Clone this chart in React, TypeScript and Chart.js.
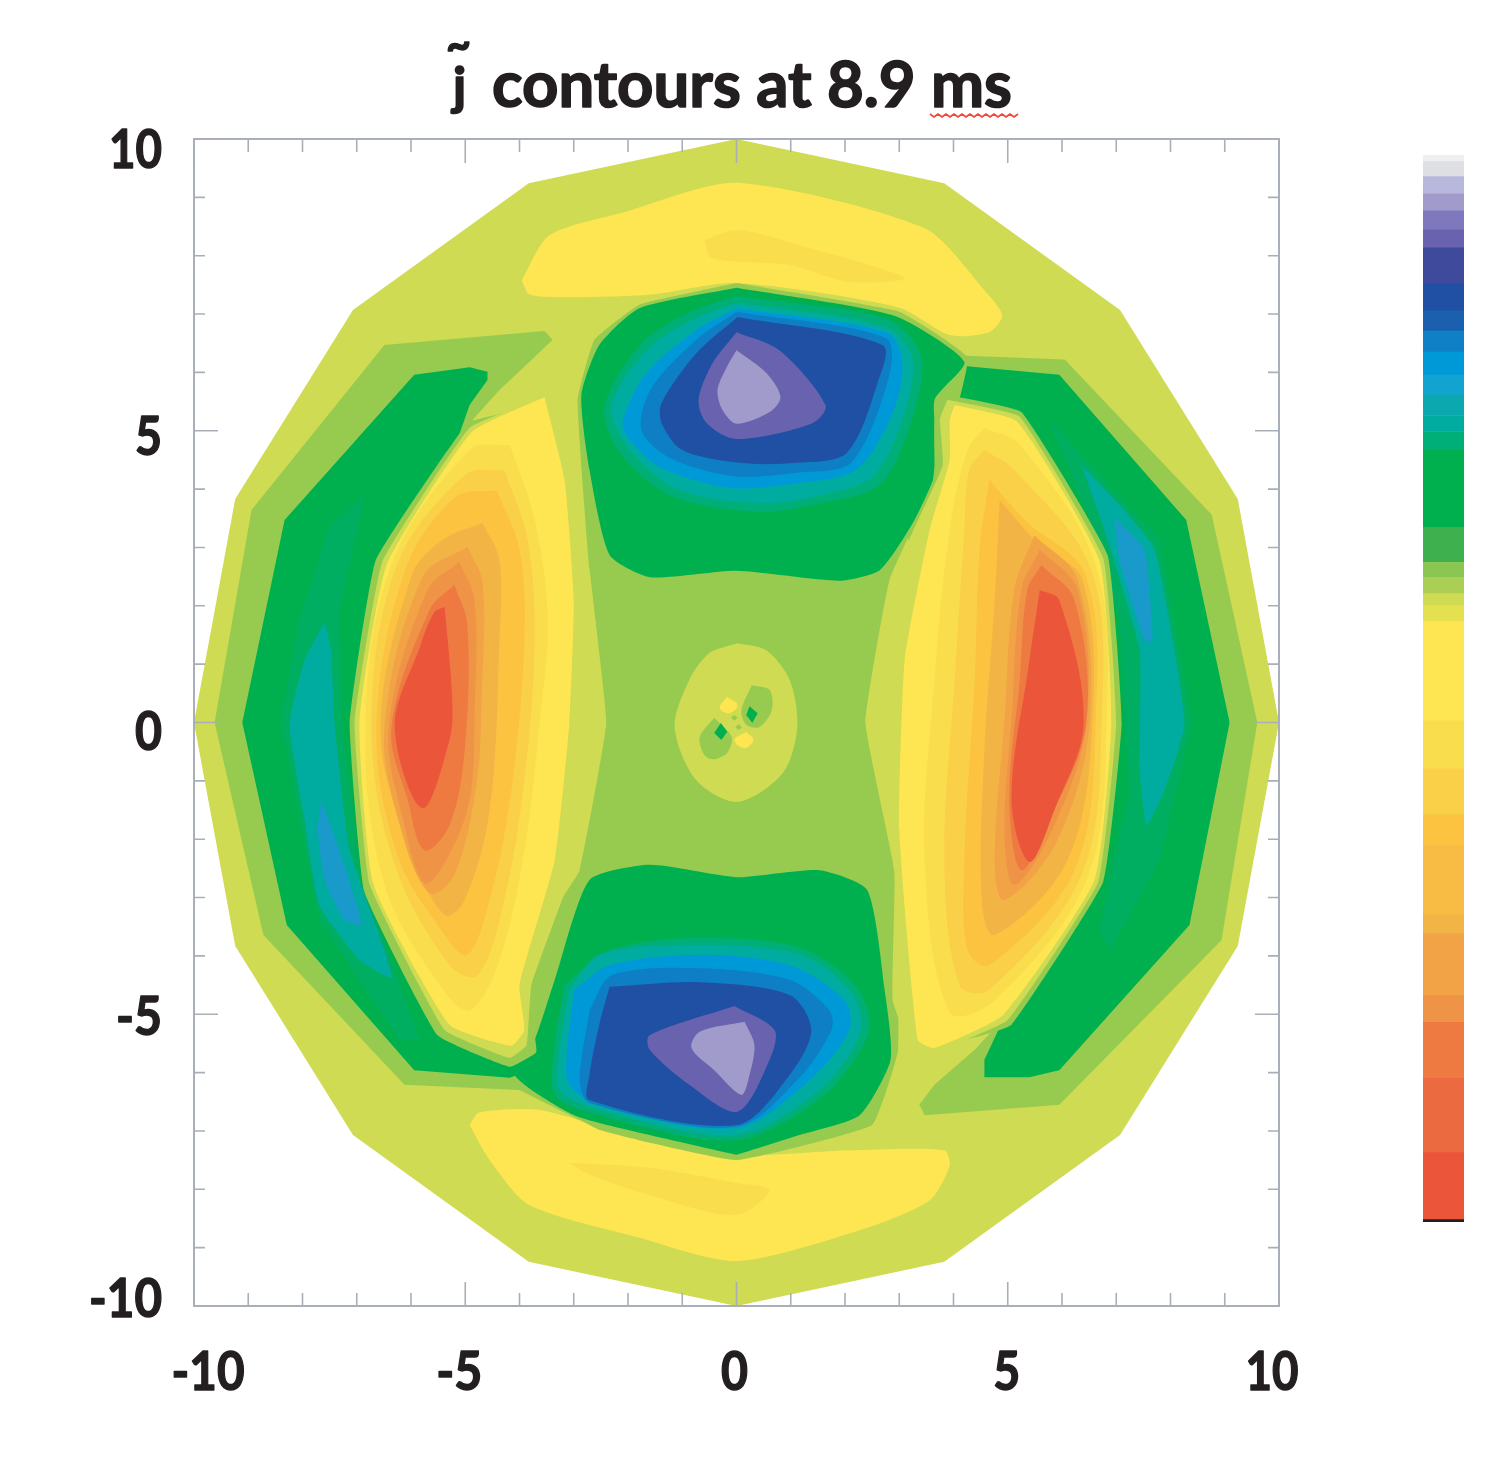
import React, { useEffect, useRef } from "react";
import { Chart, registerables } from "chart.js";

Chart.register(...registerables);

type Pt = [number, number];

const xTickValues = [-10, -5, 0, 5, 10];
const yTickValues = [-10, -5, 0, 5, 10];
const titleText = "contours at 8.9 ms";

const outerDisc: Pt[] = [[0,10],[3.83,9.24],[7.07,7.07],[9.24,3.83],[10,0],[9.24,-3.83],[7.07,-7.07],[3.83,-9.24],[0,-10],[-3.83,-9.24],[-7.07,-7.07],[-9.24,-3.83],[-10,0],[-9.24,3.83],[-7.07,7.07],[-3.83,9.24]];
const topBand: Pt[] = [[-3.96,7.58],[-3.45,8.35],[-2.06,8.75],[0,9.25],[3.47,8.47],[4.57,7.41],[4.9,6.98],[4.66,6.69],[3.93,6.64],[3,7.11],[0,7.53],[-1.6,7.33],[-3.26,7.29],[-3.82,7.34]];
const topBandCore: Pt[] = [[-0.59,8.27],[0,8.44],[1.16,8.18],[3.1,7.62],[2.08,7.55],[0.98,7.84],[-0.46,7.96]];
const bottomBand: Pt[] = [[-4.92,-6.9],[-4.74,-6.68],[-3.63,-6.64],[-1.97,-7.07],[0,-7.41],[2.08,-7.33],[3.83,-7.33],[3.93,-7.59],[3.56,-8.19],[2.27,-8.7],[0,-9.23],[-1.79,-8.83],[-3.82,-8.27],[-4.55,-7.5]];
const bottomBandCore: Pt[] = [[-3.08,-7.55],[-1.6,-7.63],[0,-7.89],[0.61,-8.01],[0,-8.44],[-1.6,-8.1],[-2.71,-7.75]];

const leftArcMid: Pt[] = [[-3.39,6.56],[-3.54,6.71],[-6.49,6.47],[-8.94,3.64],[-9.62,0],[-8.72,-3.64],[-6.12,-6.21],[-4,-6.3],[-2.53,-6.98],[-2.53,-4.76],[-5.29,-2.19],[-5.84,0],[-5.6,3.5],[-4.85,5.2],[-4.37,5.7],[-3.82,6.18]];
const rightArcMid: Pt[] = [[3.37,-6.55],[3.47,-6.73],[5.95,-6.55],[8.94,-3.73],[9.6,0],[8.76,3.56],[6.05,6.22],[3.9,6.3],[3,3.81],[3.93,0],[5.2,-4.8],[4.4,-5.6],[3.65,-6.21]];
const leftArcDeep: Pt[] = [[-4.59,6.01],[-4.92,6.09],[-5.94,5.96],[-8.33,3.47],[-9.11,0],[-8.29,-3.47],[-5.94,-5.96],[-4.18,-6.09],[-3.26,-5.78],[-5.29,-3.04],[-6.21,0],[-5.66,3.47],[-4.92,5.44],[-4.59,5.87]];
const rightArcDeep: Pt[] = [[4.57,-6.08],[5.4,-6.08],[5.95,-5.96],[8.35,-3.47],[9.09,0],[8.29,3.47],[5.95,5.96],[4.3,6.1],[3.6,6.2],[3.56,5.53],[4.85,0],[5.95,-3.04],[4.57,-5.78]];
const leftTint: Pt[] = [[-6.86,3.9],[-7.32,1.93],[-7.28,0],[-6.91,-2.7],[-5.84,-5.44],[-6.21,-5.44],[-7.69,-3.38],[-8.39,0],[-8.06,1.76],[-7.5,3.38]];
const leftTeal: Pt[] = [[-7.59,1.72],[-7.47,1.24],[-7.41,0],[-7.13,-2.19],[-6.49,-3.9],[-6.36,-4.38],[-6.95,-4.07],[-7.69,-3.13],[-7.96,-1.67],[-8.24,-0.04],[-7.96,1.07]];
const leftBlue: Pt[] = [[-7.65,-1.33],[-7.23,-2.44],[-6.91,-3.47],[-7.23,-3.38],[-7.59,-2.7],[-7.72,-1.84]];
const rightTint: Pt[] = [[5.77,5.18],[6.6,4.33],[7.8,3.13],[8.39,0],[7.8,-2.36],[6.88,-3.9],[6.69,-3.56],[7.24,-1.16],[7.06,1.76],[6.51,3.47]];
const rightTeal: Pt[] = [[6.36,4.41],[7.06,3.73],[7.71,2.96],[8.26,0],[7.89,-1.16],[7.56,-1.76],[7.43,-0.81],[7.43,1.24],[6.78,3.3]];
const rightBlue: Pt[] = [[6.97,3.5],[7.52,2.96],[7.67,1.41],[7.52,1.41],[7.06,2.78]];

const centerMid: Pt[] = [[0,7.53],[3,7.04],[4.26,6.25],[3.74,4.33],[2.82,2.44],[2.38,0],[2.91,-2.53],[2.98,-5.61],[2.5,-6.9],[0,-7.5],[-2.53,-6.98],[-3.82,-6.21],[-3.82,-4.76],[-3.6,-4],[-3.2,-3],[-2.89,-2.53],[-2.4,0],[-2.71,2.61],[-2.93,5.53],[-2.62,6.56],[-1.79,7.16]];

const topPit: Pt[] = [[0,7.45],[2.91,6.97],[4.2,6.18],[3.65,5.53],[3.71,4.41],[3.28,3.47],[2.64,2.61],[1.9,2.43],[0,2.6],[-1.6,2.49],[-2.34,2.87],[-2.71,4.33],[-2.86,5.61],[-2.53,6.47],[-1.79,7.1]];
const topTint: Pt[] = [[0,7.31],[2.82,6.9],[3.41,6.25],[3.23,5.18],[2.64,4.07],[1.4,3.73],[0.42,3.61],[-1.14,3.86],[-2.12,4.58],[-2.43,5.41],[-1.75,6.5],[-0.87,7.03]];
const topTeal: Pt[] = [[0,7.19],[2.76,6.78],[3.24,6.25],[3.1,5.3],[2.51,4.21],[1.4,3.86],[0.42,3.76],[-1.05,3.98],[-1.97,4.67],[-2.3,5.41],[-1.66,6.38],[-0.81,6.9]];
const topBlue: Pt[] = [[0,7.1],[2.78,6.68],[3.06,6.16],[2.88,5.3],[2.21,4.33],[1.11,4.1],[-0.13,4.02],[-1.42,4.38],[-2.01,4.89],[-2.1,5.18],[-1.66,5.99],[-0.74,6.73]];
const topMidBlue: Pt[] = [[0,7.04],[2.75,6.59],[2.82,5.96],[2.12,4.46],[1.11,4.28],[-0.04,4.22],[-1.2,4.52],[-1.75,5.01],[-1.57,5.73],[-0.74,6.56]];
const topDeep: Pt[] = [[0.02,6.95],[2.69,6.47],[2.6,5.82],[2.03,4.62],[1.11,4.45],[0.06,4.45],[-1,4.67],[-1.38,5.13],[-1.38,5.48],[-0.74,6.33]];
const topPurple: Pt[] = [[0,6.69],[0.79,6.38],[1.64,5.44],[1.4,5.13],[0,4.86],[-0.55,5.13],[-0.7,5.53],[-0.44,6.16]];
const topLight: Pt[] = [[0,6.38],[0.55,5.99],[0.81,5.58],[0.61,5.32],[0,5.12],[-0.26,5.36],[-0.35,5.7],[-0.18,6.09]];

const bottomPit: Pt[] = [[0,-7.41],[1.16,-7.07],[2.27,-6.73],[2.84,-5.78],[2.73,-4.58],[2.41,-2.87],[1.53,-2.53],[0,-2.65],[-1.6,-2.44],[-2.71,-2.7],[-3.35,-4.41],[-3.72,-5.44],[-4.09,-6.04],[-2.99,-6.73],[-1.6,-7.07]];
const bottomTint: Pt[] = [[-3.17,-4.5],[-2.34,-3.9],[-0.68,-3.69],[1.16,-3.86],[2.18,-4.5],[2.45,-5.27],[1.62,-6.38],[0,-7.16],[-2.53,-6.73],[-3.35,-6.38],[-3.35,-5.53]];
const bottomTeal: Pt[] = [[-3.08,-4.58],[-2.53,-3.98],[-0.68,-3.81],[1.16,-3.98],[2.08,-4.58],[2.3,-5.27],[1.53,-6.3],[0,-7.07],[-2.53,-6.64],[-3.26,-6.3],[-3.26,-5.61]];
const bottomBlue: Pt[] = [[-2.99,-4.58],[-2.34,-4.16],[-0.68,-3.98],[0.98,-4.16],[1.99,-4.76],[2.08,-5.27],[1.35,-6.13],[0,-6.95],[-2.53,-6.56],[-3.08,-6.21],[-3.13,-5.7]];
const bottomMidBlue: Pt[] = [[-2.71,-4.93],[-2.3,-4.33],[-0.68,-4.21],[0.98,-4.41],[1.71,-4.93],[1.75,-5.27],[1.16,-6.09],[0,-6.93],[-2.71,-6.52],[-2.89,-6.13]];
const bottomDeep: Pt[] = [[-2.34,-4.53],[-0.68,-4.45],[0.98,-4.67],[1.38,-5.27],[0.98,-6.04],[0,-6.9],[-2.71,-6.47],[-2.71,-6.04],[-2.53,-5.18]];
const bottomPurple: Pt[] = [[-0.04,-4.86],[0.7,-5.27],[0.61,-5.78],[0.02,-6.67],[-0.87,-6.21],[-1.6,-5.61],[-1.6,-5.36]];
const bottomLight: Pt[] = [[0.15,-5.13],[0.33,-5.53],[0.24,-6.04],[0.09,-6.38],[-0.41,-5.96],[-0.83,-5.58],[-0.68,-5.3]];

const hubOuter: Pt[] = [[0.02,1.36],[0.55,1.24],[0.98,0.73],[1.12,-0.08],[0.85,-0.87],[0.02,-1.36],[-0.74,-0.99],[-1.14,-0.08],[-0.87,0.73],[-0.5,1.19]];
const hubMidA: Pt[] = [[0.28,0.64],[0.61,0.56],[0.65,0.21],[0.42,-0.08],[0.18,-0.04],[0.09,0.21]];
const hubDeepA: Pt[] = [[0.24,0.28],[0.39,0.16],[0.29,-0.01],[0.18,0.13]];
const hubMidB: Pt[] = [[-0.41,0.08],[-0.09,-0.25],[-0.17,-0.52],[-0.41,-0.63],[-0.59,-0.56],[-0.68,-0.25]];
const hubDeepB: Pt[] = [[-0.29,-0.01],[-0.17,-0.16],[-0.28,-0.3],[-0.41,-0.18]];
const hubYellowA: Pt[] = [[-0.17,0.44],[0.02,0.3],[-0.13,0.16],[-0.31,0.25]];
const hubYellowB: Pt[] = [[0.18,-0.16],[0.31,-0.3],[0.15,-0.44],[-0.04,-0.3]];
const hubDotA: Pt[] = [[-0.04,0.13],[0.02,0.08],[-0.04,0.03],[-0.1,0.08]];
const hubDotB: Pt[] = [[0.04,-0.03],[0.1,-0.08],[0.04,-0.13],[-0.02,-0.08]];

const leftLobeRing: Pt[] = [[-4.3,5.3],[-4.96,5.13],[-6.65,2.78],[-7.13,0],[-6.86,-2.9],[-5.51,-5.36],[-4.18,-5.9],[-3.69,-5.65],[-3.75,-5.2],[-3.9,-4.5],[-3.26,-2.19],[-2.99,0.39],[-3.17,3.81]];
const leftLobeEdge: Pt[] = [[-3.48,5.61],[-4.92,5.05],[-6.53,2.75],[-7.04,0],[-6.76,-2.78],[-5.38,-5.27],[-4.18,-5.75],[-3.87,-5.53],[-3.78,-4.5],[-2.99,-2.44],[-2.43,0],[-2.71,2.61],[-3.17,4.67]];
const leftLobeY1: Pt[] = [[-3.54,5.58],[-4.88,4.98],[-6.45,2.7],[-6.95,0],[-6.69,-2.78],[-5.29,-5.18],[-4.15,-5.54],[-3.91,-5.27],[-4,-4.5],[-3.35,-2.36],[-3.08,0],[-3,2.1],[-3.17,4.16]];
const leftLobeY2: Pt[] = [[-4.18,4.76],[-3.72,3.47],[-3.48,1.76],[-3.63,0],[-3.91,-2.19],[-4.37,-4.07],[-4.92,-4.93],[-5.47,-4.5],[-6.49,-2.78],[-6.84,-0.08],[-6.36,2.7],[-4.92,4.67]];
const leftLobeY3: Pt[] = [[-4.28,4.33],[-3.85,3.13],[-3.72,1.41],[-3.91,-0.99],[-4.28,-3.04],[-4.77,-4.33],[-5.29,-4.16],[-6.3,-2.44],[-6.73,-0.08],[-6.27,2.67],[-5.01,4.24]];
const leftLobeO1: Pt[] = [[-4.42,3.98],[-4,2.96],[-3.91,1.41],[-4.15,-1.16],[-4.55,-3.04],[-4.96,-3.98],[-5.38,-3.64],[-6.25,-2.27],[-6.64,-0.08],[-6.12,2.58],[-5.2,3.85]];
const leftLobeO2: Pt[] = [[-4.68,3.42],[-4.37,2.78],[-4.37,1.41],[-4.55,-1.5],[-5.01,-3.04],[-5.38,-3.3],[-6.06,-2.1],[-6.56,-0.08],[-5.99,2.51],[-5.42,3.13]];
const leftLobeO3: Pt[] = [[-4.96,3.01],[-4.68,2.39],[-4.7,0.39],[-4.79,-1.04],[-5.2,-2.61],[-5.66,-2.92],[-6.18,-1.84],[-6.49,-0.08],[-5.79,2.49]];
const leftLobeO4: Pt[] = [[-5.11,2.75],[-4.83,2.1],[-4.83,0.09],[-4.92,-1.33],[-5.35,-2.36],[-5.75,-2.75],[-6.12,-1.76],[-6.41,-0.08],[-5.7,2.27]];
const leftLobeO5: Pt[] = [[-5.2,2.36],[-4.96,1.67],[-5.01,-0.47],[-5.29,-1.76],[-5.75,-2.19],[-6.06,-1.33],[-6.36,-0.08],[-5.66,1.93]];
const leftLobeRed: Pt[] = [[-5.38,1.98],[-5.24,0.39],[-5.29,-0.3],[-5.79,-1.47],[-6.3,-0.08],[-5.84,1.29],[-5.57,1.89]];

const rightLobeRing: Pt[] = [[3.96,5.6],[5.25,5.32],[6.84,2.87],[7.1,0],[6.76,-2.73],[5.07,-5.18],[4.2,-5.43],[3.6,-5],[3.3,-4.5],[3.3,-1.84],[3.3,1.24],[3.65,4.4],[3.65,5.18]];
const rightLobeEdge: Pt[] = [[3.89,5.53],[5.22,5.24],[6.76,2.82],[7,0],[6.67,-2.73],[5,-5.1],[3.65,-5.65],[3.23,-5.61],[2.88,-4.76],[2.91,-2.53],[2.38,0],[2.85,2.44],[3.8,4.4],[3.75,5.2]];
const rightLobeY1: Pt[] = [[4.02,5.44],[5.18,5.15],[6.69,2.78],[6.91,0],[6.6,-2.7],[4.92,-5.01],[3.65,-5.58],[3.34,-5.44],[3,-1.84],[3.1,1.07],[3.56,3.3],[3.93,4.5],[3.93,5.18]];
const rightLobeY2: Pt[] = [[4.57,5.05],[5.22,4.76],[6.62,2.7],[6.82,0],[6.45,-2.7],[4.76,-4.76],[3.93,-4.96],[3.47,-2.36],[3.65,0.73],[3.93,3.3],[4.26,4.67]];
const rightLobeY3: Pt[] = [[4.57,4.67],[5.12,4.33],[6.54,2.61],[6.73,0],[6.36,-2.61],[4.66,-4.58],[4.11,-4.5],[3.83,-2.36],[4.02,0.73],[4.2,3.3],[4.29,4.33]];
const rightLobeO1: Pt[] = [[4.66,4.16],[5.31,3.47],[6.43,2.53],[6.62,0],[6.23,-2.53],[4.66,-4.16],[4.26,-3.9],[4.2,-2.36],[4.39,0.73],[4.48,2.96]];
const rightLobeO2: Pt[] = [[4.85,3.81],[5.59,3.04],[6.38,2.44],[6.56,0],[6.1,-2.36],[4.76,-3.64],[4.52,-3.04],[4.57,-0.47],[4.76,2.1]];
const rightLobeO3: Pt[] = [[5.49,3.21],[6.29,2.44],[6.51,0],[5.92,-2.01],[4.94,-3.04],[4.76,-2.36],[4.94,0.04],[5.12,2.27]];
const rightLobeO4: Pt[] = [[5.59,2.96],[6.29,2.27],[6.45,0],[5.86,-1.76],[5.12,-2.78],[4.94,-1.84],[5.07,0.04],[5.25,2.27]];
const rightLobeO5: Pt[] = [[5.62,2.7],[6.23,2.1],[6.45,0],[5.81,-1.59],[5.25,-2.53],[5.03,-1.33],[5.22,0.73],[5.36,2.27]];
const rightLobeRed: Pt[] = [[5.59,2.27],[5.95,2.1],[6.4,0],[5.86,-1.5],[5.4,-2.39],[5.07,-1.33],[5.4,1.07]];

const colorbarColors = ["#EFEFF1","#DEDFE3","#B7B8DC","#A09BCB","#8078BC","#6962AE","#3F4A9C","#1F50A3","#1A60AE","#0F80C6","#0099D8","#12A3D0","#0CA8B0","#00ACA0","#00AE78","#00B04F","#3FB04E","#8AC651","#ABCF54","#CFDB52","#E5E050","#FEE552","#FADD4C","#FAD048","#FBC340","#F8BB43","#F3B446","#F1A345","#EF9446","#EE7A42","#EC6A3F","#EB563B","#231F20"];
const colorbarHeights = [6,15,17,17,19,18,36,27,20,21,23,20,21,16,18,77,35,15,16,12,16,99,48,46,31,69,18,62,27,56,74,67,3];

const C = {
  lime: "#CFDB52", yellow: "#FEE552", y2: "#FADD4C", y3: "#FAD048", o1: "#FBC340", o2: "#F3B446", o3: "#F1A345", o4: "#EF9446", o5: "#EE7A42", red: "#EB563B",
  mid: "#96CB50", deep: "#00B04F", tint: "#00AE62", tint2: "#00AE78", teal: "#00ACA0", blue: "#0099D8", midBlue: "#0E7FC4", navy: "#1F50A3", purple: "#6962AE", light: "#A09BCB", sideBlue: "#1A9ACB",
};

const LOBE = 0.35;
const PIT = 0.3;

const layers: [Pt[], string, number][] = [
  [outerDisc, C.lime, 0], [topBand, C.yellow, 0.25], [topBandCore, C.y2, 0.3], [bottomBand, C.yellow, 0.25], [bottomBandCore, C.y2, 0.3],
  [leftArcMid, C.mid, 0], [rightArcMid, C.mid, 0], [leftArcDeep, C.deep, 0], [rightArcDeep, C.deep, 0],
  [leftTint, C.tint, 0], [rightTint, C.tint, 0], [leftTeal, C.teal, 0.15], [rightTeal, C.teal, 0.15], [leftBlue, C.sideBlue, 0.15], [rightBlue, C.sideBlue, 0.15],
  [centerMid, C.mid, 0.1],
  [topPit, C.deep, 0.2], [topTint, C.tint2, PIT], [topTeal, C.teal, PIT], [topBlue, C.blue, PIT], [topMidBlue, C.midBlue, PIT], [topDeep, C.navy, PIT], [topPurple, C.purple, PIT], [topLight, C.light, PIT],
  [bottomPit, C.deep, 0.2], [bottomTint, C.tint2, PIT], [bottomTeal, C.teal, PIT], [bottomBlue, C.blue, PIT], [bottomMidBlue, C.midBlue, PIT], [bottomDeep, C.navy, PIT], [bottomPurple, C.purple, PIT], [bottomLight, C.light, PIT],
  [hubOuter, C.lime, 0.3], [hubMidA, C.mid, 0.3], [hubDeepA, C.deep, 0], [hubMidB, C.mid, 0.3], [hubDeepB, C.deep, 0], [hubYellowA, C.yellow, 0.4], [hubYellowB, C.yellow, 0.4], [hubDotA, C.mid, 0], [hubDotB, C.mid, 0],
  [leftLobeRing, C.mid, 0.1], [leftLobeEdge, C.lime, 0.1], [leftLobeY1, C.yellow, 0.15], [leftLobeY2, C.y2, LOBE], [leftLobeY3, C.y3, LOBE], [leftLobeO1, C.o1, LOBE], [leftLobeO2, C.o2, LOBE], [leftLobeO3, C.o3, LOBE], [leftLobeO4, C.o4, LOBE], [leftLobeO5, C.o5, LOBE], [leftLobeRed, C.red, LOBE],
  [rightLobeRing, C.mid, 0.1], [rightLobeEdge, C.lime, 0.1], [rightLobeY1, C.yellow, 0.15], [rightLobeY2, C.y2, LOBE], [rightLobeY3, C.y3, LOBE], [rightLobeO1, C.o1, LOBE], [rightLobeO2, C.o2, LOBE], [rightLobeO3, C.o3, LOBE], [rightLobeO4, C.o4, LOBE], [rightLobeO5, C.o5, LOBE], [rightLobeRed, C.red, LOBE],
];

const INK = "#231F20";
const AXIS = "#A9AFB9";

const xLabelPlace: Record<string, [number, number]> = { "-10": [14, 73], "-5": [-6, 46], "0": [-2, 27], "5": [-1, 27], "10": [-7, 53] };
const yLabelPlace: Record<string, [number, number]> = { "10": [29, 53], "5": [24, 27], "0": [27, 27], "-5": [21, 46], "-10": [11, 73] };

const heavyText = (ctx: CanvasRenderingContext2D, text: string, x: number, y: number, w: number, stroke: number) => {
  ctx.lineWidth = stroke;
  ctx.lineJoin = "round";
  ctx.strokeStyle = INK;
  ctx.strokeText(text, x, y, w);
  ctx.fillText(text, x, y, w);
};

const framePlugin = {
  id: "frame",
  afterDatasetsDraw(chart: any) {
    const { ctx, chartArea: a, scales } = chart;
    ctx.save();
    ctx.strokeStyle = AXIS;
    ctx.lineWidth = 2;
    ctx.strokeRect(a.left, a.top, a.right - a.left, a.bottom - a.top);
    ctx.lineWidth = 1.6;
    ctx.beginPath();
    for (const t of scales.x.ticks) {
      const p = scales.x.getPixelForValue(t.value);
      const len = t.value % 5 === 0 ? 24 : 13;
      ctx.moveTo(p, a.top); ctx.lineTo(p, a.top + len);
      ctx.moveTo(p, a.bottom); ctx.lineTo(p, a.bottom - len);
    }
    for (const t of scales.y.ticks) {
      const p = scales.y.getPixelForValue(t.value);
      const len = t.value % 5 === 0 ? 24 : 11;
      ctx.moveTo(a.left, p); ctx.lineTo(a.left + len, p);
      ctx.moveTo(a.right, p); ctx.lineTo(a.right - len, p);
    }
    ctx.stroke();

    ctx.fillStyle = INK;
    ctx.font = "bold 53px Lato";
    ctx.textBaseline = "alphabetic";
    ctx.textAlign = "center";
    for (const v of xTickValues) {
      const [off, w] = xLabelPlace[String(v)];
      heavyText(ctx, String(v), scales.x.getPixelForValue(v) + off, 1390, w, 1.4);
    }
    ctx.textAlign = "right";
    for (const v of yTickValues) {
      const [off, w] = yLabelPlace[String(v)];
      heavyText(ctx, String(v), 162, scales.y.getPixelForValue(v) + off, w, 1.4);
    }

    ctx.textAlign = "left";
    ctx.font = "bold 64px Lato";
    heavyText(ctx, titleText, 492, 107, 520, 1.6);
    ctx.font = "bold 52px Lato";
    heavyText(ctx, "j", 453, 104, 14, 1.6);
    ctx.font = "bold 46px Lato";
    heavyText(ctx, "~", 446, 60, 25, 1.4);

    ctx.strokeStyle = "#EE4B3A";
    ctx.lineWidth = 1.6;
    ctx.beginPath();
    for (let i = 0, px = 930; px <= 1020; i++, px += 4) {
      const py = 114 + (i % 2 ? 3 : 0);
      if (i === 0) ctx.moveTo(px, py); else ctx.lineTo(px, py);
    }
    ctx.stroke();
    ctx.restore();
  },
};

export default function App() {
  const mainRef = useRef<HTMLCanvasElement>(null);
  const barRef = useRef<HTMLCanvasElement>(null);

  useEffect(() => {
    const main = new Chart(mainRef.current as HTMLCanvasElement, {
      type: "scatter",
      data: {
        datasets: layers.map(([pts, color, tension], i) => ({
          data: [...pts, pts[0]].map(([x, y]) => ({ x, y })),
          showLine: true,
          fill: "shape",
          backgroundColor: color,
          borderWidth: 0,
          pointRadius: 0,
          tension,
          order: -i,
        })),
      },
      options: {
        responsive: false,
        animation: false,
        events: [],
        layout: { padding: { left: 194, right: 219, top: 139, bottom: 160 } },
        plugins: { legend: { display: false }, tooltip: { enabled: false }, title: { display: false } },
        scales: {
          x: { type: "linear", min: -10, max: 10, ticks: { display: false, stepSize: 1 }, grid: { display: false, drawTicks: false }, border: { display: false } },
          y: { type: "linear", min: -10, max: 10, ticks: { display: false, stepSize: 1 }, grid: { display: false, drawTicks: false }, border: { display: false } },
        },
      },
      plugins: [framePlugin],
    } as any);

    const bar = new Chart(barRef.current as HTMLCanvasElement, {
      type: "bar",
      data: {
        labels: [""],
        datasets: colorbarHeights.map((h, i) => ({
          data: [h],
          backgroundColor: colorbarColors[i],
          borderWidth: 0,
          barPercentage: 1,
          categoryPercentage: 1,
        })),
      },
      options: {
        responsive: false,
        animation: false,
        events: [],
        layout: { padding: 0 },
        plugins: { legend: { display: false }, tooltip: { enabled: false } },
        scales: {
          x: { display: false, stacked: true },
          y: { display: false, stacked: true, reverse: true, min: 0, max: colorbarHeights.reduce((a, b) => a + b, 0) },
        },
      },
    } as any);

    return () => {
      main.destroy();
      bar.destroy();
    };
  }, []);

  return (
    <div style={{ position: "absolute", left: 0, top: 0, width: 1498, height: 1466, background: "#fff", overflow: "hidden" }}>
      <canvas ref={mainRef} width={1498} height={1466} style={{ position: "absolute", left: 0, top: 0, display: "block" }} />
      <canvas ref={barRef} width={41} height={1067} style={{ position: "absolute", left: 1423, top: 155, display: "block" }} />
    </div>
  );
}
